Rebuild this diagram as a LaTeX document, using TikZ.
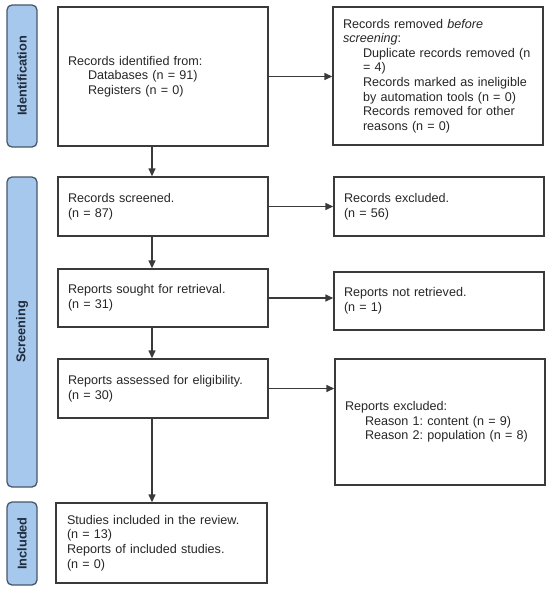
\documentclass[tikz,border=0pt]{standalone}
\usepackage{fontspec}
\setmainfont{Liberation Sans}
\usetikzlibrary{arrows.meta}
\definecolor{barfill}{HTML}{A6C8EC}
\definecolor{barline}{HTML}{46576A}
\definecolor{bartext}{HTML}{1E2B3C}
\definecolor{boxline}{HTML}{3A3A3A}
\definecolor{txt}{HTML}{262626}
\tikzset{
  phase/.style={draw=barline, fill=barfill, line width=1.3pt, rounded corners=5pt,
    minimum height=30pt, rotate=90, font=\fontsize{12.8}{15}\selectfont\bfseries,
    text=bartext, inner sep=0pt},
  flowbox/.style={draw=boxline, line width=1.4pt, text width=190pt, align=left,
    inner xsep=10pt, inner ysep=0pt, minimum width=210pt, text=txt,
    font=\fontsize{12.6}{14.6}\selectfont},
  flowarrow/.style={draw=boxline, line width=1.4pt, -{Triangle[length=8pt,width=7pt]}}
}
\newcommand{\ind}{\hspace*{20pt}}
\frenchspacing
\begin{document}
\begin{tikzpicture}[x=1pt,y=-1pt]
\useasboundingbox (0,0) rectangle (550,592);
% phase bars
\node[phase, minimum width=142pt] (pid) at (22,76) {Identification};
\node[phase, minimum width=310pt] (psc) at (22,332) {Screening};
\node[phase, minimum width=83pt] (pin) at (22,543.5) {Included};
% left column
\node[flowbox, minimum height=139pt] (ident) at (163,76.5)
  {Records identified from:\\ \ind Databases (n = 91)\\ \ind Registers (n = 0)};
\node[flowbox, minimum height=59pt] (screened) at (163,206.5)
  {Records screened.\\(n = 87)};
\node[flowbox, minimum height=58pt] (sought) at (163,298)
  {Reports sought for retrieval.\\(n = 31)};
\node[flowbox, minimum height=59pt] (assessed) at (163,388.5)
  {Reports assessed for eligibility.\\(n = 30)};
\node[flowbox, minimum height=80pt, minimum width=211pt, text width=189pt, inner xsep=11pt] (included) at (161.5,543)
  {Studies included in the review.\\(n = 13)\\Reports of included studies.\\(n = 0)};
% right column
\node[flowbox, minimum height=138pt] (removed) at (438,76)
  {Records removed \textit{before}\\ \textit{screening}:\\
   \ind Duplicate records removed (n\\ \ind = 4)\\
   \ind Records marked as ineligible\\ \ind by automation tools (n = 0)\\
   \ind Records removed for other\\ \ind reasons (n = 0)};
\node[flowbox, minimum height=59pt] (excluded) at (439,206.5)
  {Records excluded.\\(n = 56)};
\node[flowbox, minimum height=58pt] (notret) at (439,301)
  {Reports not retrieved.\\(n = 1)};
\node[flowbox, minimum height=126pt] (repexcl) at (440,422)
  {Reports excluded:\\ \ind Reason 1: content (n = 9)\\ \ind Reason 2: population (n = 8)};
% connectors
\coordinate (ax) at (152,0);
\draw[flowarrow] (ident.south -| ax) -- (screened.north -| ax);
\draw[flowarrow] (screened.south -| ax) -- (sought.north -| ax);
\draw[flowarrow] (sought.south -| ax) -- (assessed.north -| ax);
\draw[flowarrow] (assessed.south -| ax) -- (included.north -| ax);
\draw[flowarrow] (ident.east) -- (ident.east -| removed.west);
\draw[flowarrow] (screened.east) -- (screened.east -| excluded.west);
\draw[flowarrow] (sought.east) -- (sought.east -| notret.west);
\draw[flowarrow] (assessed.east) -- (assessed.east -| repexcl.west);
\end{tikzpicture}
\end{document}
